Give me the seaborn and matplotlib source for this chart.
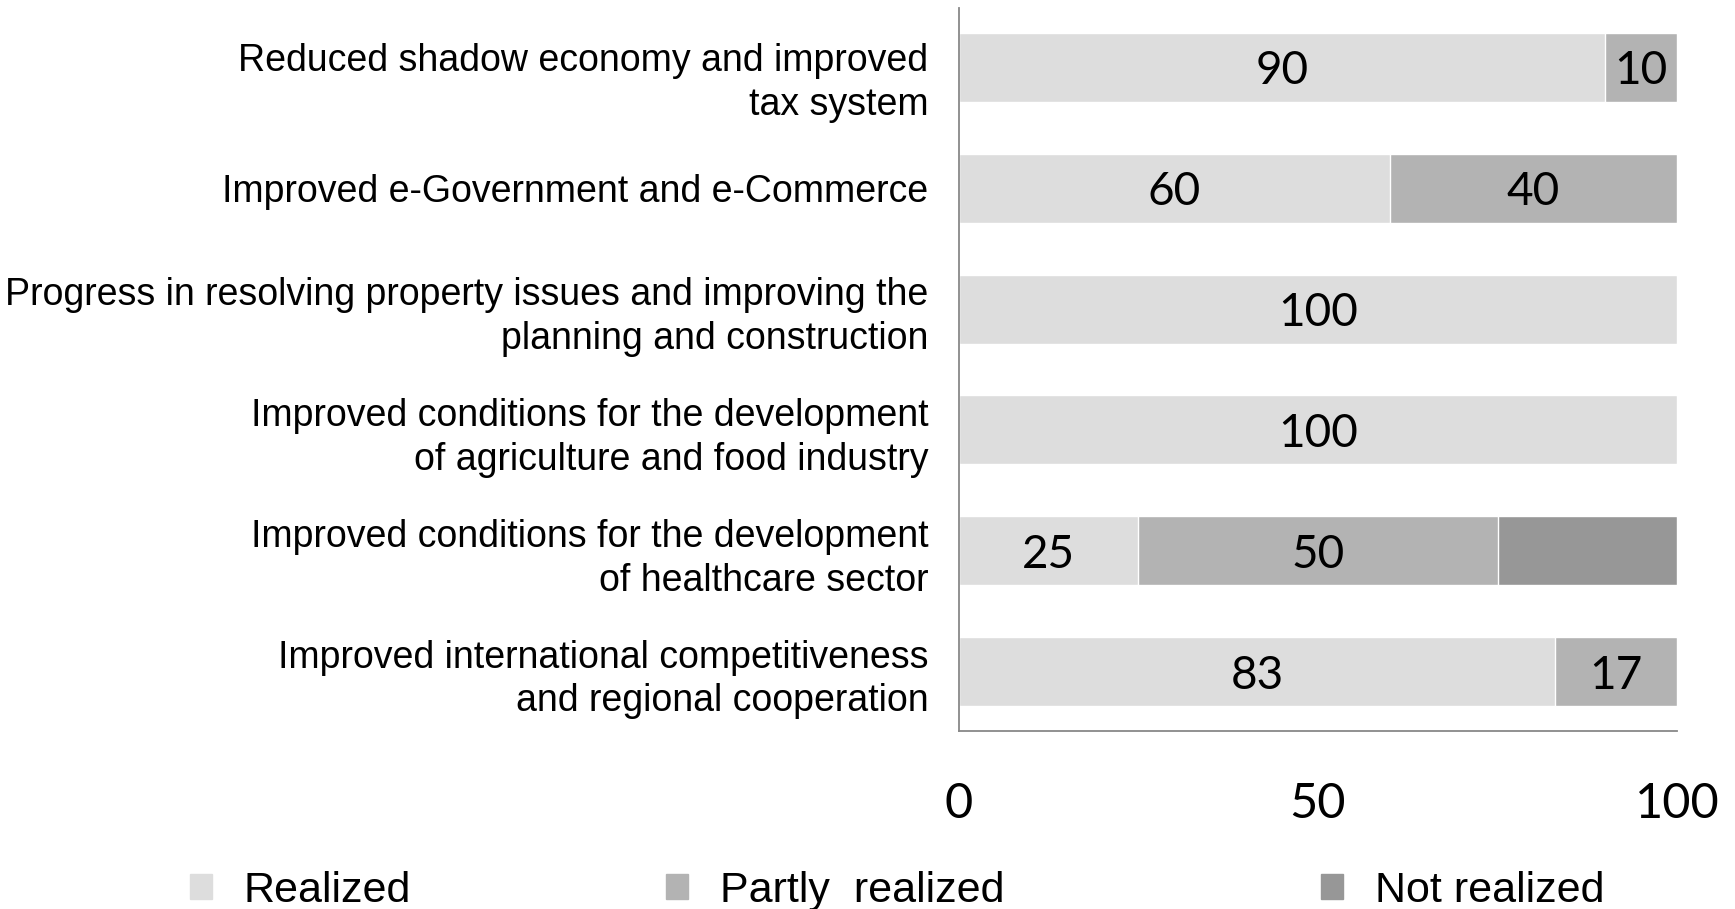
import pandas as pd
import numpy as np
import matplotlib
matplotlib.use('Agg')
import matplotlib.pyplot as plt
import matplotlib.patches as mpatches
import matplotlib.transforms as mtransforms
import seaborn as sns

# data
categories = ['Reduced shadow economy and improved\ntax system',
              'Improved e-Government and e-Commerce',
              'Progress in resolving property issues and improving the\nplanning and construction',
              'Improved conditions for the development\nof agriculture and food industry',
              'Improved conditions for the development\nof healthcare sector',
              'Improved international competitiveness\nand regional cooperation']
realized = [90, 60, 100, 100, 25, 83]
partly = [10, 40, 0, 0, 50, 17]
not_realized = [0, 0, 0, 0, 25, 0]
series_names = ['Realized', 'Partly  realized', 'Not realized']
colors = ['#dddddd', '#b3b3b3', '#979797']

df = pd.DataFrame({'cat': categories, 'r': realized, 'p': partly, 'n': not_realized})
df['rp'] = df['r'] + df['p']
df['total'] = df['rp'] + df['n']

sns.set_style('white')
plt.rcParams['font.family'] = ['Liberation Sans', 'DejaVu Sans']
plt.rcParams['text.color'] = 'black'
plt.rcParams['xtick.color'] = 'black'
plt.rcParams['ytick.color'] = 'black'

fig = plt.figure(figsize=(17.35, 9.09), dpi=100)
ax = fig.add_axes([0.5527, 0.196, 0.4139, 0.795])

# stacked bars by overlaying cumulative totals
sns.barplot(data=df, x='total', y='cat', color=colors[2], width=0.57, ax=ax, saturation=1)
sns.barplot(data=df, x='rp', y='cat', color=colors[1], width=0.57, ax=ax, saturation=1)
sns.barplot(data=df, x='r', y='cat', color=colors[0], width=0.57, ax=ax, saturation=1)

num_font = dict(family=['Lato', 'DejaVu Sans'], fontsize=33, color='black')
for i, row in df.iterrows():
    if row['r'] > 0:
        ax.text(row['r'] / 2, i, str(row['r']), ha='center', va='center_baseline', **num_font)
    if row['p'] > 0:
        ax.text(row['r'] + row['p'] / 2, i, str(row['p']), ha='center', va='center_baseline', **num_font)

ax.set_xlim(0, 100)
ax.set_ylim(5.49, -0.49)
ax.set_xticks([0, 50, 100])
ax.set_xlabel('')
ax.set_ylabel('')
for lab in ax.get_xticklabels():
    lab.set_fontfamily(['Lato', 'DejaVu Sans'])
    lab.set_fontsize(35)
ax.tick_params(axis='x', length=0, pad=37)
ax.tick_params(axis='y', length=0, pad=22, labelsize=27)
for lab in ax.get_yticklabels():
    lab.set_linespacing(1.28)
# first label sits a little lower in the reference
first = ax.get_yticklabels()[0]
first.set_transform(first.get_transform() + mtransforms.ScaledTranslation(0, -8 / 100, fig.dpi_scale_trans))

for s in ['top', 'right']:
    ax.spines[s].set_visible(False)
for s in ['left', 'bottom']:
    ax.spines[s].set_color('#888888')
    ax.spines[s].set_linewidth(1.3)

# legend entries spread across the bottom
leg_x = [0.1095, 0.384, 0.7615]
for name, c, x in zip(series_names, colors, leg_x):
    h = mpatches.Patch(color=c)
    fig.legend(handles=[h], labels=[name], loc='center left', bbox_to_anchor=(x, 0.02),
               frameon=False, fontsize=31, handlelength=0.5, handleheight=0.5,
               handletextpad=0.75, borderpad=0, borderaxespad=0)

fig.savefig('out.png', dpi=100)
